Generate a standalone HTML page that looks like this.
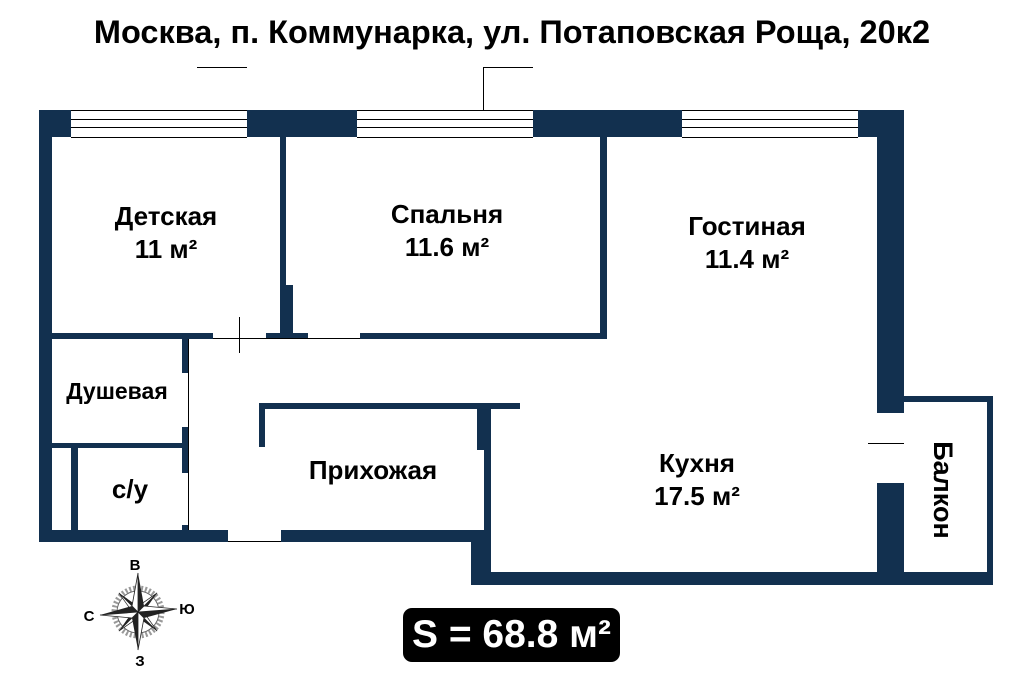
<!DOCTYPE html>
<html><head><meta charset="utf-8"><style>
body{margin:0;width:1024px;height:683px;background:#fff;position:relative;overflow:hidden;font-family:"Liberation Sans",Arial,sans-serif;}
.w{position:absolute;background:#12304f;}
.l{position:absolute;background:#000;}
.t{position:absolute;font-weight:bold;color:#000;text-align:center;white-space:nowrap;}
</style></head><body>
<div class="t" style="left:0;width:1024px;top:13px;font-size:32.5px;line-height:38px;">Москва, п. Коммунарка, ул. Потаповская Роща, 20к2</div>

<div class="l" style="left:197px;top:67px;width:50px;height:1px"></div>
<div class="l" style="left:483px;top:67px;width:50px;height:1px"></div>
<div class="l" style="left:483px;top:67px;width:1px;height:43px"></div>

<div class="w" style="left:39px;top:110px;width:32px;height:27px"></div>
<div class="w" style="left:247px;top:110px;width:110px;height:27px"></div>
<div class="w" style="left:533px;top:110px;width:149px;height:27px"></div>
<div class="w" style="left:858px;top:110px;width:46px;height:27px"></div>
<div style="position:absolute;left:71px;top:110px;width:176px;height:26px;border-top:1px solid #000;border-bottom:1px solid #000;"><div class="l" style="left:0;top:8px;width:176px;height:1px"></div><div class="l" style="left:0;top:16px;width:176px;height:1px"></div></div>
<div style="position:absolute;left:357px;top:110px;width:176px;height:26px;border-top:1px solid #000;border-bottom:1px solid #000;"><div class="l" style="left:0;top:8px;width:176px;height:1px"></div><div class="l" style="left:0;top:16px;width:176px;height:1px"></div></div>
<div style="position:absolute;left:682px;top:110px;width:176px;height:26px;border-top:1px solid #000;border-bottom:1px solid #000;"><div class="l" style="left:0;top:8px;width:176px;height:1px"></div><div class="l" style="left:0;top:16px;width:176px;height:1px"></div></div>

<div class="w" style="left:39px;top:110px;width:13px;height:432px"></div>
<div class="w" style="left:877px;top:110px;width:27px;height:303px"></div>
<div class="w" style="left:877px;top:483px;width:27px;height:102px"></div>
<div class="l" style="left:868px;top:443px;width:36px;height:1px"></div>

<div class="w" style="left:280px;top:137px;width:6px;height:202px"></div>
<div class="w" style="left:280px;top:285px;width:13px;height:54px"></div>
<div class="w" style="left:52px;top:333px;width:161px;height:6px"></div>
<div class="w" style="left:266px;top:333px;width:42px;height:6px"></div>
<div class="w" style="left:360px;top:333px;width:247px;height:6px"></div>
<div class="w" style="left:600px;top:137px;width:7px;height:202px"></div>
<div class="l" style="left:213px;top:338px;width:147px;height:1px"></div>
<div class="l" style="left:239px;top:317px;width:1px;height:36px"></div>

<div class="w" style="left:182px;top:339px;width:6px;height:34px"></div>
<div class="w" style="left:182px;top:427px;width:6px;height:46px"></div>
<div class="w" style="left:182px;top:525px;width:6px;height:6px"></div>
<div class="l" style="left:188px;top:339px;width:1px;height:191px"></div>
<div class="w" style="left:52px;top:443px;width:136px;height:5px"></div>
<div class="w" style="left:71px;top:448px;width:7px;height:82px"></div>

<div class="w" style="left:39px;top:530px;width:189px;height:12px"></div>
<div class="w" style="left:281px;top:530px;width:210px;height:12px"></div>
<div class="l" style="left:228px;top:541px;width:53px;height:1px"></div>

<div class="w" style="left:259px;top:403px;width:261px;height:6px"></div>
<div class="w" style="left:259px;top:403px;width:6px;height:44px"></div>
<div class="w" style="left:477px;top:403px;width:14px;height:47px"></div>
<div class="w" style="left:484px;top:450px;width:7px;height:80px"></div>
<div class="w" style="left:471px;top:530px;width:20px;height:55px"></div>
<div class="w" style="left:471px;top:572px;width:522px;height:13px"></div>
<div class="w" style="left:904px;top:396px;width:89px;height:6px"></div>
<div class="w" style="left:987px;top:396px;width:6px;height:189px"></div>

<div class="t" style="left:66px;width:200px;top:200px;font-size:26px;line-height:33px">Детская<br>11 м²</div>
<div class="t" style="left:347px;width:200px;top:198px;font-size:26px;line-height:33px">Спальня<br>11.6 м²</div>
<div class="t" style="left:647px;width:200px;top:210px;font-size:26px;line-height:33px">Гостиная<br>11.4 м²</div>
<div class="t" style="left:52px;width:130px;top:378px;font-size:23px;line-height:27px">Душевая</div>
<div class="t" style="left:90px;width:80px;top:474px;font-size:26px;line-height:30px">с/у</div>
<div class="t" style="left:273px;width:200px;top:455px;font-size:26px;line-height:30px">Прихожая</div>
<div class="t" style="left:597px;width:200px;top:447px;font-size:26px;line-height:33px">Кухня<br>17.5 м²</div>
<div class="t" style="left:883px;width:120px;top:475px;font-size:27px;line-height:30px;transform:rotate(90deg);">Балкон</div>

<div style="position:absolute;left:403px;top:608px;width:217px;height:54px;background:#000;border-radius:9px;color:#fff;font-weight:bold;font-size:39px;line-height:54px;text-align:center;">S = 68.8 м²</div>

<svg style="position:absolute;left:0;top:0" width="1024" height="683">
<g transform="translate(138,612)">
<circle r="24" fill="none" stroke="#999" stroke-width="5" stroke-dasharray="2 2"/>
<circle r="21" fill="none" stroke="#666" stroke-width="1"/>
<g transform="rotate(45)">
<polygon points="0,-27 4,-4 0,0" fill="#222"/><polygon points="0,-27 -4,-4 0,0" fill="#fff" stroke="#222" stroke-width=".7"/>
<polygon points="0,27 -4,4 0,0" fill="#222"/><polygon points="0,27 4,4 0,0" fill="#fff" stroke="#222" stroke-width=".7"/>
<polygon points="-27,0 -4,-4 0,0" fill="#222"/><polygon points="-27,0 -4,4 0,0" fill="#fff" stroke="#222" stroke-width=".7"/>
<polygon points="27,0 4,4 0,0" fill="#222"/><polygon points="27,0 4,-4 0,0" fill="#fff" stroke="#222" stroke-width=".7"/>
</g>
<polygon points="0,-39 6,-6 0,0" fill="#222"/><polygon points="0,-39 -6,-6 0,0" fill="#fff" stroke="#222" stroke-width=".8"/>
<polygon points="0,38 -6,6 0,0" fill="#222"/><polygon points="0,38 6,6 0,0" fill="#fff" stroke="#222" stroke-width=".8"/>
<polygon points="-38,3 -6,-6 0,0" fill="#222"/><polygon points="-38,3 -6,6 0,0" fill="#fff" stroke="#222" stroke-width=".8"/>
<polygon points="39,-3 6,6 0,0" fill="#222"/><polygon points="39,-3 6,-6 0,0" fill="#fff" stroke="#222" stroke-width=".8"/>
</g>
<g font-family="Liberation Sans, sans-serif" font-weight="bold" font-size="15" text-anchor="middle">
<text x="135" y="570">В</text><text x="89" y="621">С</text><text x="187" y="614">Ю</text><text x="140" y="666">З</text>
</g>
</svg>
</body></html>
